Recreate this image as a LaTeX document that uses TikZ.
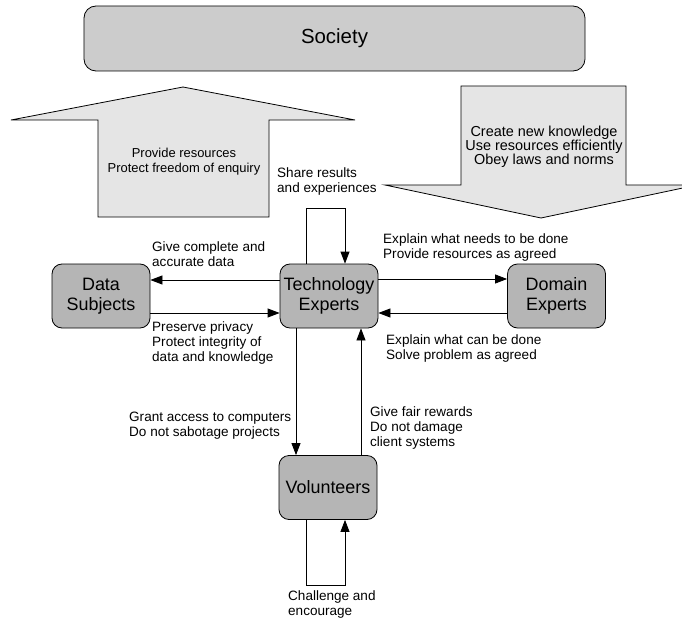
\documentclass[tikz,border=0pt]{standalone}
\usepackage{fontspec}
\setmainfont{Liberation Sans}
\usetikzlibrary{arrows.meta}
\definecolor{societygray}{gray}{0.80}
\definecolor{actorgray}{gray}{0.71}
\definecolor{arrowgray}{gray}{0.90}
\begin{document}
\begin{tikzpicture}[x=1bp,y=-1bp,
  actor/.style={draw, line width=0.8bp, fill=actorgray, rounded corners=10bp,
    minimum width=98bp, minimum height=64bp, inner sep=0pt, align=center,
    font=\fontsize{18}{20}\selectfont},
  lbl/.style={inner sep=0pt, align=left, anchor=west,
    font=\fontsize{13.6}{15}\selectfont},
  ctr/.style={inner sep=0pt, align=center},
  bigarrow/.style={draw, line width=0.8bp, fill=arrowgray, line join=miter},
  flow/.style={draw, line width=0.8bp, -{Triangle[length=12bp,width=9bp]}},
]
\useasboundingbox (0,0) rectangle (682,621);

% society banner
\node[draw, line width=0.8bp, fill=societygray, rounded corners=12bp,
  minimum width=501bp, minimum height=65bp, inner sep=0pt,
  font=\fontsize{20.5}{24}\selectfont] (society) at (334.5,38.5) {Society};

% block arrows between society and the actors
\path[bigarrow] (98,217) -- (98,120) -- (11,120) -- (183,87) -- (355,120)
  -- (269,120) -- (269,217) -- cycle;
\node[ctr, font=\fontsize{13}{14.5}\selectfont] (up) at (184,161.5)
  {Provide resources\\Protect freedom of enquiry};

\path[bigarrow] (461,86) -- (626,86) -- (626,185) -- (697,185) -- (541,218)
  -- (385,185) -- (461,185) -- cycle;
\node[ctr, font=\fontsize{14.5}{14}\selectfont] (down) at (544,146.5)
  {Create new knowledge\\Use resources efficiently\\Obey laws and norms};

% actors
\node[actor] (ds)   at (101,296) {Data\\Subjects};
\node[actor] (tech) at (329,296) {Technology\\Experts};
\node[actor] (dom)  at (556.5,296) {Domain\\Experts};
\node[actor] (vol)  at (328,487.5) {Volunteers};

% exchanges between actors
\draw[flow] (tech.west |- 0,280) -- (ds.east |- 0,280);
\draw[flow] (ds.east |- 0,313) -- (tech.west |- 0,313);
\draw[flow] (tech.east |- 0,279) -- (dom.west |- 0,279);
\draw[flow] (dom.west |- 0,313) -- (tech.east |- 0,313);
\draw[flow] (tech.south -| 296,0) -- (vol.north -| 296,0);
\draw[flow] (vol.north -| 361,0) -- (tech.south -| 361,0);

% self loops
\coordinate (ta) at (306,208);
\coordinate (tb) at (345,208);
\draw[flow] (tech.north -| ta) -- (ta) -- (tb) -- (tech.north -| tb);
\coordinate (va) at (306,585);
\coordinate (vb) at (345,585);
\draw[flow] (vol.south -| va) -- (va) -- (vb) -- (vol.south -| vb);

% labels
\node[lbl] (l1) at (277,181.5) {Share results\\and experiences};
\node[lbl] (l2) at (152,254.5) {Give complete and\\accurate data};
\node[lbl] (l3) at (152,343) {Preserve privacy\\Protect integrity of\\data and knowledge};
\node[lbl] (l4) at (383,247.5) {Explain what needs to be done\\Provide resources as agreed};
\node[lbl] (l5) at (386,348.5) {Explain what can be done\\Solve problem as agreed};
\node[lbl] (l6) at (129,425.5) {Grant access to computers\\Do not sabotage projects};
\node[lbl] (l7) at (370,428) {Give fair rewards\\Do not damage\\client systems};
\node[lbl] (l8) at (288,604.5) {Challenge and\\encourage};
\end{tikzpicture}
\end{document}
